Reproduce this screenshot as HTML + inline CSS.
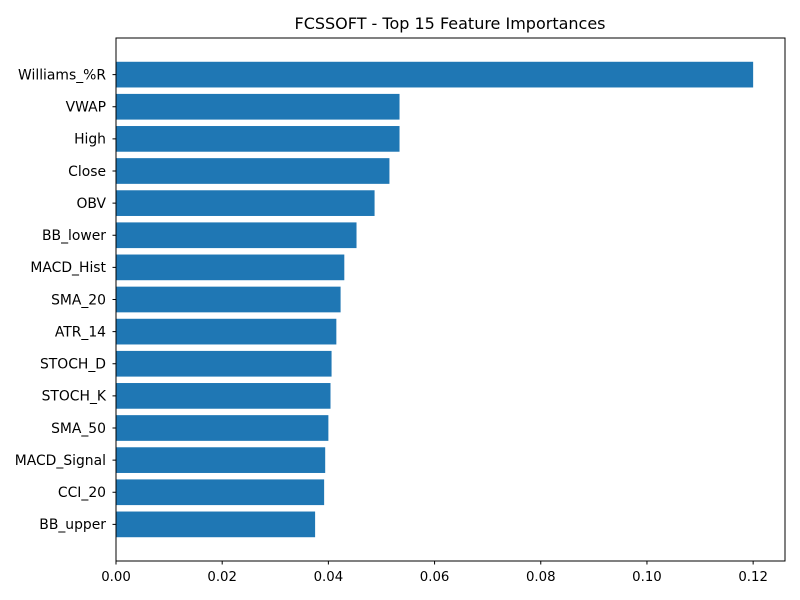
<!DOCTYPE html>
<html><head><meta charset="utf-8">
<style>
html,body{margin:0;padding:0;background:#fff;}
svg{display:block;font-family:"DejaVu Sans","Liberation Sans",sans-serif;}
</style></head>
<body>
<svg id="chart" width="800" height="600" viewBox="0 0 800 600">
<rect x="0" y="0" width="800" height="600" fill="#fff"/>
<text x="450" y="29" font-size="16" text-anchor="middle" fill="#000">FCSSOFT - Top 15 Feature Importances</text>
<g id="bars"></g>
<g id="xaxis"></g>
<g id="yaxis"></g>
<rect x="116" y="38" width="669" height="523" fill="none" stroke="#000" stroke-width="1"/>
</svg>
<script>
const categories = ["Williams_%R","VWAP","High","Close","OBV","BB_lower","MACD_Hist","SMA_20","ATR_14","STOCH_D","STOCH_K","SMA_50","MACD_Signal","CCI_20","BB_upper"];
const importances = [0.1200,0.0534,0.0534,0.0515,0.0487,0.0453,0.0430,0.0423,0.0415,0.0406,0.0404,0.0400,0.0394,0.0392,0.0375];
const xTicks = [0,0.02,0.04,0.06,0.08,0.10,0.12];
const xTickLabels = ["0.00","0.02","0.04","0.06","0.08","0.10","0.12"];

const NS="http://www.w3.org/2000/svg";
const L=116,R=785,T=38,B=561;
const xMax=Math.max(...importances)*1.05;
const xs=v=>L+(v/xMax)*(R-L);
const n=categories.length;
const unit=(B-T)/(n-1+0.8+2*0.05*(n-1+0.8));
const pad=0.05*(n-1+0.8)*unit+0.4*unit;
const ys=i=>T+pad+i*unit;
const bh=0.8*unit;
function mk(tag,attrs,parent){const e=document.createElementNS(NS,tag);for(const k in attrs)e.setAttribute(k,attrs[k]);parent.appendChild(e);return e;}
const gb=document.getElementById('bars'),gx=document.getElementById('xaxis'),gy=document.getElementById('yaxis');
categories.forEach((c,i)=>{
  const r=mk('rect',{x:L,y:ys(i)-bh/2,width:xs(importances[i])-L,height:bh,fill:'#1f77b4'},gb);
  
  
  const t=mk('line',{x1:L,x2:L-3.5,y1:ys(i),y2:ys(i),stroke:'#000'},gy);
  
  
  const lb=mk('text',{x:L-10,y:ys(i)+4.8,'font-size':13.9,'text-anchor':'end',fill:'#000'},gy);
  lb.textContent=c;
  
  
});
xTicks.forEach((v,i)=>{
  const t=mk('line',{x1:xs(v),x2:xs(v),y1:B,y2:B+3.5,stroke:'#000'},gx);
  
  
  const lb=mk('text',{x:xs(v),y:B+20,'font-size':13.3,'text-anchor':'middle',fill:'#000'},gx);
  lb.textContent=xTickLabels[i];
  
  
});
</script>
</body></html>
